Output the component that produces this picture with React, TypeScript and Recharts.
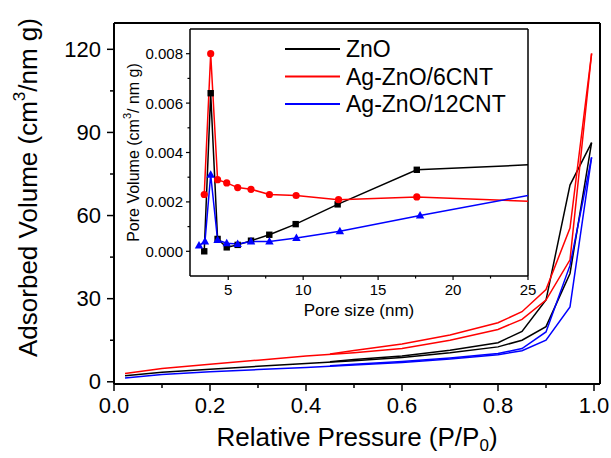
import { LineChart, Line, XAxis, YAxis, ReferenceLine } from "recharts";

const FONT = "Arial, 'Liberation Sans', sans-serif";

const seriesNames = ["ZnO", "Ag-ZnO/6CNT", "Ag-ZnO/12CNT"];
const seriesColors = ["#000000", "#ff0000", "#0000ff"];

// N2 isotherms, relative pressure P/P0
const adsP = [0.023, 0.1, 0.2, 0.3, 0.4, 0.5, 0.6, 0.7, 0.8, 0.85, 0.9, 0.95, 0.995];
const desP = [0.995, 0.95, 0.9, 0.85, 0.8, 0.7, 0.6, 0.5, 0.45];

const znoAds = [2.2, 3.4, 4.5, 5.6, 6.6, 7.6, 8.8, 10.5, 12.6, 15.0, 19.9, 39.1, 86.3];
const znoDes = [86.3, 71.0, 29.5, 18.2, 14.1, 11.4, 9.3, 8.0, 7.2];
const cnt6Ads = [3.0, 4.8, 6.3, 7.8, 9.3, 10.5, 12.0, 15.0, 18.9, 22.5, 29.5, 44.0, 118.5];
const cnt6Des = [118.5, 55.5, 33.3, 25.3, 21.3, 16.9, 13.6, 11.3, 10.0];
const cnt12Ads = [1.4, 2.6, 3.6, 4.4, 5.2, 6.1, 7.0, 8.2, 9.8, 11.2, 15.0, 27.0, 81.0];
const cnt12Des = [81.0, 42.0, 18.0, 12.0, 10.2, 8.6, 7.3, 6.3, 5.8];

// pore size distribution (inset)
const poreZnO = [3.4, 3.83, 4.29, 4.9, 5.63, 6.52, 7.74, 9.5, 12.3, 17.58, 25];
const volZnO = [0.0, 0.0064, 0.0005, 0.00016, 0.00026, 0.00043, 0.00067, 0.0011, 0.0019, 0.0033, 0.0035];
const pore6 = [3.4, 3.83, 4.29, 4.9, 5.63, 6.52, 7.75, 9.53, 12.36, 17.58, 25];
const vol6 = [0.0023, 0.008, 0.0029, 0.00277, 0.00258, 0.00251, 0.0023, 0.00226, 0.00209, 0.0022, 0.00203];
const pore12 = [3.05, 3.45, 3.83, 4.29, 4.9, 5.63, 6.52, 7.75, 9.55, 12.45, 17.8, 25];
const vol12 = [0.00023, 0.0004, 0.0031, 0.00046, 0.00033, 0.0003, 0.0004, 0.0004, 0.00054, 0.00081, 0.00145, 0.00226];

const pressureTicks = [0, 0.1, 0.2, 0.3, 0.4, 0.5, 0.6, 0.7, 0.8, 0.9, 1.0];
const volumeTicks = [0, 15, 30, 45, 60, 75, 90, 105, 120];
const poreTicks = [5, 7.5, 10, 12.5, 15, 17.5, 20, 22.5, 25];
const poreVolTicks = [0, 0.001, 0.002, 0.003, 0.004, 0.005, 0.006, 0.007, 0.008];

const P_DOMAIN: [number, number] = [0, 1.0125];
const V_DOMAIN: [number, number] = [-0.8, 129.5];
const PORE_DOMAIN: [number, number] = [2.45, 25];
const PV_DOMAIN: [number, number] = [-0.001, 0.009];

const pairs = (xs: number[], ys: number[]) => xs.map((x, i) => ({ x, y: ys[i] }));

const isotherms = [
  { name: "ZnO ads", color: seriesColors[0], data: pairs(adsP, znoAds) },
  { name: "ZnO des", color: seriesColors[0], data: pairs(desP, znoDes) },
  { name: "6CNT ads", color: seriesColors[1], data: pairs(adsP, cnt6Ads) },
  { name: "6CNT des", color: seriesColors[1], data: pairs(desP, cnt6Des) },
  { name: "12CNT ads", color: seriesColors[2], data: pairs(adsP, cnt12Ads) },
  { name: "12CNT des", color: seriesColors[2], data: pairs(desP, cnt12Des) },
];

const poreSeries = [
  { name: seriesNames[0], color: seriesColors[0], shape: "square", data: pairs(poreZnO, volZnO) },
  { name: seriesNames[1], color: seriesColors[1], shape: "circle", data: pairs(pore6, vol6) },
  { name: seriesNames[2], color: seriesColors[2], shape: "triangle", data: pairs(pore12, vol12) },
];

function MainXTick({ x, y, payload }: any) {
  const v = payload.value;
  const major = Math.round(v * 10) % 2 === 0;
  return (
    <g>
      <line x1={x} x2={x} y1={y} y2={y + (major ? 7 : 4)} stroke="#000" strokeWidth={1.5} />
      {major && (
        <text x={x} y={y + 29} textAnchor="middle" fontSize={22} fontFamily={FONT} fill="#000">
          {v.toFixed(1)}
        </text>
      )}
    </g>
  );
}

function MainYTick({ x, y, payload }: any) {
  const v = payload.value;
  const major = v % 30 === 0;
  return (
    <g>
      <line x1={x} x2={x - (major ? 7 : 4)} y1={y} y2={y} stroke="#000" strokeWidth={1.5} />
      {major && (
        <text x={x - 13} y={y} textAnchor="end" dominantBaseline="central" fontSize={22} fontFamily={FONT} fill="#000">
          {v}
        </text>
      )}
    </g>
  );
}

function InsetXTick({ x, y, payload }: any) {
  const v = payload.value;
  const major = v % 5 === 0;
  return (
    <g>
      <line x1={x} x2={x} y1={y} y2={y + (major ? 4 : 2.5)} stroke="#000" strokeWidth={1.2} />
      {major && (
        <text x={x} y={y + 19} textAnchor="middle" fontSize={15} fontFamily={FONT} fill="#000">
          {v}
        </text>
      )}
    </g>
  );
}

function InsetYTick({ x, y, payload }: any) {
  const v = payload.value;
  const major = Math.round(v / 0.001) % 2 === 0;
  return (
    <g>
      <line x1={x} x2={x - (major ? 4 : 2.5)} y1={y} y2={y} stroke="#000" strokeWidth={1.2} />
      {major && (
        <text x={x - 7} y={y} textAnchor="end" dominantBaseline="central" fontSize={15} fontFamily={FONT} fill="#000">
          {v.toFixed(3)}
        </text>
      )}
    </g>
  );
}

function Marker(props: any) {
  const { cx, cy, payload, shape, color } = props;
  if (cx == null || cy == null || payload.x >= 25) return <g />;
  if (shape === "square") return <rect x={cx - 3.2} y={cy - 3.2} width={6.4} height={6.4} fill={color} />;
  if (shape === "circle") return <circle cx={cx} cy={cy} r={3.6} fill={color} />;
  return <path d={`M${cx},${cy - 4.5} L${cx + 4.2},${cy + 3} L${cx - 4.2},${cy + 3} Z`} fill={color} />;
}

export default function App() {
  return (
    <div style={{ position: "absolute", left: 0, top: 0, width: 611, height: 458, background: "#fff" }}>
      <LineChart width={611} height={458} margin={{ top: 23, right: 11, bottom: 0, left: 0 }}>
        <XAxis
          type="number"
          dataKey="x"
          domain={P_DOMAIN}
          ticks={pressureTicks}
          interval={0}
          allowDataOverflow
          height={74}
          tickSize={0}
          tickMargin={0}
          tick={<MainXTick />}
          axisLine={{ stroke: "#000", strokeWidth: 2 }}
          label={{
            content: ({ viewBox }: any) => (
              <text
                x={viewBox.x + viewBox.width / 2}
                y={viewBox.y + 62}
                textAnchor="middle"
                fontSize={26}
                fontFamily={FONT}
                fill="#000"
              >
                Relative Pressure (P/P
                <tspan dy={5} fontSize={17}>0</tspan>
                <tspan dy={-5}>)</tspan>
              </text>
            ),
          }}
        />
        <YAxis
          type="number"
          dataKey="y"
          domain={V_DOMAIN}
          ticks={volumeTicks}
          interval={0}
          allowDataOverflow
          width={114}
          tickSize={0}
          tickMargin={0}
          tick={<MainYTick />}
          axisLine={{ stroke: "#000", strokeWidth: 2 }}
          label={{
            content: ({ viewBox }: any) => {
              const cx = viewBox.x + 28;
              const cy = viewBox.y + viewBox.height / 2 - 16;
              return (
                <text
                  x={cx}
                  y={cy}
                  transform={`rotate(-90 ${cx} ${cy})`}
                  textAnchor="middle"
                  dominantBaseline="central"
                  fontSize={26}
                  fontFamily={FONT}
                  fill="#000"
                >
                  Adsorbed Volume (cm
                  <tspan dy={-9} fontSize={17}>3</tspan>
                  <tspan dy={9}>/nm g)</tspan>
                </text>
              );
            },
          }}
        />
        <ReferenceLine y={V_DOMAIN[1]} stroke="#000" strokeWidth={2} />
        <ReferenceLine x={P_DOMAIN[1]} stroke="#000" strokeWidth={2} />
        {isotherms.map((s) => (
          <Line
            key={s.name}
            data={s.data}
            dataKey="y"
            type="linear"
            stroke={s.color}
            strokeWidth={1.5}
            dot={false}
            isAnimationActive={false}
          />
        ))}
      </LineChart>

      {/* inset: pore size distribution */}
      <div style={{ position: "absolute", left: 110, top: 15 }}>
        <LineChart width={430} height={320} margin={{ top: 14, right: 12, bottom: 0, left: 0 }}>
          <XAxis
            type="number"
            dataKey="x"
            domain={PORE_DOMAIN}
            ticks={poreTicks}
            interval={0}
            allowDataOverflow
            height={59}
            tickSize={0}
            tickMargin={0}
            tick={<InsetXTick />}
            axisLine={{ stroke: "#000", strokeWidth: 1.5 }}
            label={{
              content: ({ viewBox }: any) => (
                <text
                  x={viewBox.x + viewBox.width / 2}
                  y={viewBox.y + 40}
                  textAnchor="middle"
                  fontSize={17}
                  fontFamily={FONT}
                  fill="#000"
                >
                  Pore size (nm)
                </text>
              ),
            }}
          />
          <YAxis
            type="number"
            dataKey="y"
            domain={PV_DOMAIN}
            ticks={poreVolTicks}
            interval={0}
            allowDataOverflow
            width={80}
            tickSize={0}
            tickMargin={0}
            tick={<InsetYTick />}
            axisLine={{ stroke: "#000", strokeWidth: 1.5 }}
            label={{
              content: ({ viewBox }: any) => {
                const cx = viewBox.x + 23;
                const cy = viewBox.y + viewBox.height / 2;
                return (
                  <text
                    x={cx}
                    y={cy}
                    transform={`rotate(-90 ${cx} ${cy})`}
                    textAnchor="middle"
                    dominantBaseline="central"
                    fontSize={16}
                    fontFamily={FONT}
                    fill="#000"
                  >
                    Pore Volume (cm
                    <tspan dy={-6} fontSize={11}>3</tspan>
                    <tspan dy={6}>/ nm g)</tspan>
                  </text>
                );
              },
            }}
          />
          <ReferenceLine y={PV_DOMAIN[1]} stroke="#000" strokeWidth={1.5} />
          <ReferenceLine x={PORE_DOMAIN[1]} stroke="#000" strokeWidth={1.5} />
          {poreSeries.map((s) => (
            <Line
              key={s.name}
              data={s.data}
              dataKey="y"
              type="linear"
              stroke={s.color}
              strokeWidth={1.5}
              dot={(p: any) => <Marker key={`${s.name}-${p.index}`} {...p} shape={s.shape} color={s.color} />}
              isAnimationActive={false}
            />
          ))}
        </LineChart>
      </div>

      {/* legend */}
      <svg width={240} height={90} style={{ position: "absolute", left: 280, top: 35 }}>
        {seriesNames.map((name, i) => (
          <g key={name}>
            <line x1={5} x2={60} y1={14 + i * 27.5} y2={14 + i * 27.5} stroke={seriesColors[i]} strokeWidth={2} />
            <text x={66} y={14 + i * 27.5} dominantBaseline="central" fontSize={23} fontFamily={FONT} fill="#000">
              {name}
            </text>
          </g>
        ))}
      </svg>
    </div>
  );
}
